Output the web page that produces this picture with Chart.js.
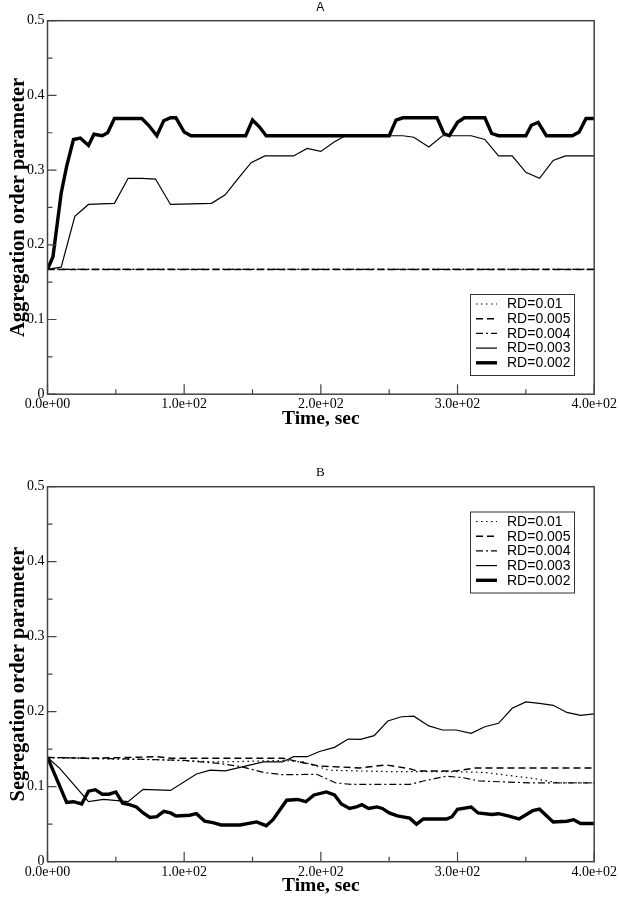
<!DOCTYPE html>
<html>
<head>
<meta charset="utf-8">
<script src="https://cdn.jsdelivr.net/npm/chart.js@4.4.0/dist/chart.umd.min.js"></script>
<style>
  body { margin: 0; background: #fff; }
  #wrap { position: relative; width: 619px; height: 899px; }
  canvas { position: absolute; left: 0; }
  #chartA { top: 0; }
  #chartB { top: 440px; }
</style>
</head>
<body>
<div id="wrap">
  <canvas id="chartA" width="619" height="440"></canvas>
  <canvas id="chartB" width="619" height="459"></canvas>
</div>
<script>
// axis ticks
const xTicks = [0, 100, 200, 300, 400]
const xTickLabels = ['0.0e+00', '1.0e+02', '2.0e+02', '3.0e+02', '4.0e+02']
const xMinor = [50, 150, 250, 350]
const yTicks = [0, 0.1, 0.2, 0.3, 0.4, 0.5]
const yTickLabels = ['0', '0.1', '0.2', '0.3', '0.4', '0.5']
const yMinor = [0.05, 0.15, 0.25, 0.35, 0.45]

const seriesLabels = ['RD=0.01', 'RD=0.005', 'RD=0.004', 'RD=0.003', 'RD=0.002']
const seriesDash = [[1.5, 3.5], [7, 4], [7, 3, 2, 3], [], []]
const seriesWidth = [1.2, 1.4, 1.2, 1.2, 3.4]

// A: aggregation order parameter
const aggT01 = [0, 400]
const aggV01 = [0.167, 0.167]
const aggT005 = [0, 400]
const aggV005 = [0.167, 0.167]
const aggT004 = [0, 400]
const aggV004 = [0.167, 0.167]
const aggT003 = [0, 10, 20, 30, 49, 59, 69, 79, 90, 120, 130, 140, 149, 159, 180, 190, 200, 210, 217, 250,
                 260, 268, 279, 289, 310, 320, 330, 340, 350, 360, 370, 379, 400]
const aggV003 = [0.167, 0.170, 0.238, 0.254, 0.2555, 0.289, 0.289, 0.288, 0.254, 0.2555, 0.267, 0.290, 0.310, 0.319, 0.319, 0.329, 0.325, 0.338, 0.345, 0.346,
                 0.346, 0.344, 0.331, 0.346, 0.346, 0.341, 0.319, 0.319, 0.297, 0.289, 0.313, 0.319, 0.319]
const aggT002 = [0, 4, 10, 14, 19, 24, 30, 34, 40, 44, 49, 69, 74, 80, 85, 90, 94, 100, 105, 145,
                 150, 155, 160, 250, 255, 260, 285, 290, 294, 300, 305, 320, 325, 330, 350, 354, 359, 365, 384, 389,
                 394, 400]
const aggV002 = [0.167, 0.184, 0.269, 0.305, 0.341, 0.343, 0.333, 0.348, 0.346, 0.350, 0.369, 0.369, 0.360, 0.346, 0.366, 0.370, 0.370, 0.351, 0.346, 0.346,
                 0.367, 0.358, 0.346, 0.346, 0.367, 0.370, 0.370, 0.349, 0.346, 0.364, 0.370, 0.370, 0.349, 0.346, 0.346, 0.360, 0.364, 0.346, 0.346, 0.351,
                 0.369, 0.369]

// B: segregation order parameter
const segT01 = [0, 40, 80, 126, 150, 172, 187, 206, 228, 255, 300, 320, 355, 374, 400]
const segV01 = [0.139, 0.137, 0.136, 0.133, 0.134, 0.135, 0.133, 0.122, 0.121, 0.120, 0.120, 0.119, 0.111, 0.105, 0.105]
const segT005 = [0, 30, 60, 80, 90, 120, 150, 172, 187, 199, 206, 228, 248, 265, 270, 299, 313, 400]
const segV005 = [0.139, 0.138, 0.139, 0.140, 0.138, 0.138, 0.138, 0.138, 0.132, 0.1276, 0.127, 0.125, 0.129, 0.124, 0.121, 0.121, 0.125, 0.125]
const segT004 = [0, 60, 100, 126, 141, 158, 172, 197, 211, 223, 265, 275, 292, 304, 316, 355, 400]
const segV004 = [0.139, 0.137, 0.135, 0.131, 0.127, 0.119, 0.116, 0.1165, 0.105, 0.103, 0.103, 0.1076, 0.114, 0.112, 0.1076, 0.105, 0.105]
const segT003 = [0, 9, 30, 41, 59, 70, 90, 109, 119, 130, 158, 172, 180, 190, 199, 210, 220, 229, 239, 249,
                 259, 268, 279, 289, 299, 310, 320, 330, 340, 350, 360, 370, 380, 390, 400]
const segV003 = [0.139, 0.1245, 0.080, 0.083, 0.080, 0.0965, 0.095, 0.117, 0.122, 0.121, 0.133, 0.133, 0.140, 0.140, 0.147, 0.1525, 0.1635, 0.163, 0.168, 0.1876,
                 0.1933, 0.194, 0.181, 0.1756, 0.1756, 0.1712, 0.180, 0.1845, 0.2045, 0.213, 0.211, 0.2085, 0.199, 0.195, 0.197]
const segT002 = [0, 14, 19, 25, 30, 35, 40, 45, 50, 55, 60, 65, 70, 75, 80, 85, 90, 94, 104, 109,
                 115, 121, 127, 141, 153, 160, 165, 175, 183, 189, 195, 204, 210, 215, 221, 226, 230, 235, 241, 245,
                 250, 256, 265, 270, 275, 292, 296, 300, 310, 315, 325, 330, 337, 345, 355, 360, 370, 380, 385, 390,
                 400]
const segV002 = [0.139, 0.079, 0.080, 0.077, 0.094, 0.096, 0.090, 0.090, 0.093, 0.078, 0.076, 0.073, 0.065, 0.059, 0.060, 0.067, 0.065, 0.061, 0.062, 0.064,
                 0.054, 0.052, 0.049, 0.049, 0.053, 0.048, 0.056, 0.082, 0.083, 0.080, 0.089, 0.093, 0.089, 0.077, 0.071, 0.073, 0.076, 0.071, 0.073, 0.071,
                 0.065, 0.061, 0.058, 0.050, 0.057, 0.057, 0.060, 0.070, 0.073, 0.065, 0.063, 0.064, 0.061, 0.057, 0.068, 0.070, 0.053, 0.054, 0.056, 0.051,
                 0.051]

const serif = '"Liberation Serif", "Times New Roman", serif'
const sans = '"Liberation Sans", Arial, sans-serif'

function pts(t, v) {
    return t.map((x, i) => ({ x: x, y: v[i] }))
}

// frame, inward ticks, panel letter and boxed legend
const frameAndTicks = {
    id: 'frameAndTicks',
    afterDraw(chart, args, opts) {
        const ctx = chart.ctx
        const a = chart.chartArea
        const xs = chart.scales.x
        const ys = chart.scales.y
        ctx.save()
        ctx.strokeStyle = '#444'
        ctx.lineWidth = 1.5
        ctx.setLineDash([])
        ctx.strokeRect(a.left, a.top, a.right - a.left, a.bottom - a.top)

        ctx.lineWidth = 1.2
        ctx.beginPath()
        xTicks.forEach(v => { let p = xs.getPixelForValue(v); ctx.moveTo(p, a.bottom); ctx.lineTo(p, a.bottom - 10) })
        xMinor.forEach(v => { let p = xs.getPixelForValue(v); ctx.moveTo(p, a.bottom); ctx.lineTo(p, a.bottom - 5) })
        yTicks.forEach(v => { let p = ys.getPixelForValue(v); ctx.moveTo(a.left, p); ctx.lineTo(a.left + 9, p) })
        yMinor.forEach(v => { let p = ys.getPixelForValue(v); ctx.moveTo(a.left, p); ctx.lineTo(a.left + 5, p) })
        ctx.stroke()

        // panel letter
        ctx.fillStyle = '#000'
        ctx.font = opts.titleFont
        ctx.textAlign = 'center'
        ctx.textBaseline = 'middle'
        ctx.fillText(opts.title, (a.left + a.right) / 2 - 0.5, opts.titleY)

        // legend box
        const lx = opts.legendX, ly = opts.legendY
        const rowH = 14.7
        const ds = chart.data.datasets
        ctx.fillStyle = '#fff'
        ctx.fillRect(lx, ly, 104, 81)
        ctx.strokeStyle = '#333'
        ctx.lineWidth = 1
        ctx.strokeRect(lx + 0.5, ly + 0.5, 104, 81)
        ctx.font = '14px ' + sans
        ctx.textAlign = 'left'
        ds.forEach((d, i) => {
            let y = ly + 10 + i * rowH
            ctx.strokeStyle = '#000'
            ctx.lineWidth = d.borderWidth
            ctx.setLineDash(d.borderDash)
            ctx.beginPath()
            ctx.moveTo(lx + 6, y)
            ctx.lineTo(lx + 27, y)
            ctx.stroke()
            ctx.setLineDash([])
            ctx.fillStyle = '#000'
            ctx.fillText(d.label, lx + 37, y + 0.5)
        })
        ctx.restore()
    }
}

function makeChart(canvasId, series, yTitle, cfg) {
    let datasets = series.map((s, i) => ({
        label: seriesLabels[i],
        data: pts(s[0], s[1]),
        borderColor: '#000',
        borderWidth: seriesWidth[i],
        borderDash: seriesDash[i],
        pointRadius: 0,
        tension: 0,
        fill: false
    }))
    return new Chart(document.getElementById(canvasId), {
        type: 'line',
        data: { datasets: datasets },
        options: {
            responsive: false,
            animation: false,
            layout: { padding: { top: cfg.top, right: 24, left: 0, bottom: 0 } },
            scales: {
                x: {
                    type: 'linear', min: 0, max: 400,
                    grid: { display: false, drawTicks: false },
                    border: { display: false },
                    afterBuildTicks: (s) => { s.ticks = xTicks.map(v => ({ value: v })) },
                    afterFit: (s) => { s.height = cfg.xHeight },
                    ticks: {
                        color: '#000', padding: 2, maxRotation: 0,
                        font: { family: serif, size: 14 },
                        callback: (v, idx) => xTickLabels[idx]
                    },
                    title: {
                        display: true, text: 'Time, sec', color: '#000',
                        font: { family: serif, size: 19.5, weight: 'bold' },
                        padding: { top: 0, bottom: cfg.xTitlePad }
                    }
                },
                y: {
                    min: 0, max: 0.5,
                    grid: { display: false, drawTicks: false },
                    border: { display: false },
                    afterBuildTicks: (s) => { s.ticks = yTicks.map(v => ({ value: v })) },
                    afterFit: (s) => { s.width = 47.5 },
                    ticks: {
                        color: '#000', padding: 3,
                        font: { family: serif, size: 14 },
                        callback: (v, idx) => yTickLabels[idx]
                    },
                    title: {
                        display: true, text: yTitle, color: '#000',
                        font: { family: serif, size: 20.5, weight: 'bold' },
                        padding: { top: 6, bottom: 0 }
                    }
                }
            },
            plugins: {
                legend: { display: false },
                tooltip: { enabled: false },
                frameAndTicks: cfg.panel
            }
        },
        plugins: [frameAndTicks]
    })
}

makeChart('chartA',
    [[aggT01, aggV01], [aggT005, aggV005], [aggT004, aggV004], [aggT003, aggV003], [aggT002, aggV002]],
    'Aggregation order parameter',
    { top: 20.7, xHeight: 45.8, xTitlePad: 9,
      panel: { title: 'A', titleFont: '12px ' + sans, titleY: 8, legendX: 470, legendY: 294 } })

makeChart('chartB',
    [[segT01, segV01], [segT005, segV005], [segT004, segV004], [segT003, segV003], [segT002, segV002]],
    'Segregation order parameter',
    { top: 46.7, xHeight: 37.3, xTitlePad: 1,
      panel: { title: 'B', titleFont: '13px ' + serif, titleY: 32.5, legendX: 470, legendY: 71.5 } })
</script>
</body>
</html>
